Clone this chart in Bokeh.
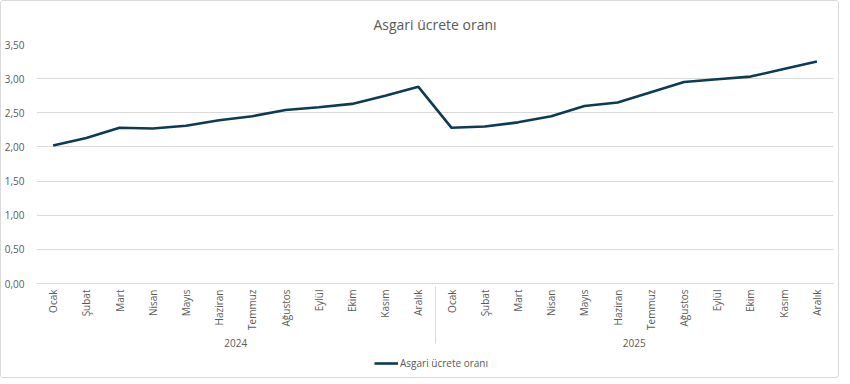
import math
from bokeh.plotting import figure
from bokeh.layouts import column
from bokeh.models import FactorRange, Range1d, Legend, LegendItem, CustomJSTickFormatter, FixedTicker, ColumnDataSource
from bokeh.embed import file_html
from bokeh.resources import INLINE

years = ["2024", "2025"]
months = ["Ocak", "Şubat", "Mart", "Nisan", "Mayıs", "Haziran", "Temmuz",
          "Ağustos", "Eylül", "Ekim", "Kasım", "Aralık"]
values_2024 = [2.02, 2.13, 2.28, 2.27, 2.31, 2.39, 2.45, 2.54, 2.58, 2.63, 2.75, 2.88]
values_2025 = [2.28, 2.30, 2.36, 2.45, 2.60, 2.65, 2.80, 2.95, 2.99, 3.03, 3.14, 3.25]
y_ticks = [0, 0.5, 1.0, 1.5, 2.0, 2.5, 3.0, 3.5]
series_name = "Asgari ücrete oranı"

factors = [(y, m) for y in years for m in months]
vals = values_2024 + values_2025
src = ColumnDataSource(dict(x=factors, y=vals))

FONT = "Open Sans"
GREY = "#595959"
LINE = "#0d3b54"

p = figure(x_range=FactorRange(*factors, range_padding=0, factor_padding=0, group_padding=0),
           y_range=Range1d(0, 3.5),
           frame_width=797, frame_height=239, output_backend="svg", toolbar_location=None,
           min_border_left=28, min_border_right=5, min_border_top=0, min_border_bottom=0)
p.title.text = "Asgari ücrete oranı"
p.title.align = "center"
p.title.text_font = FONT
p.title.text_font_size = "14px"
p.title.text_font_style = "normal"
p.title.text_color = GREY
p.title.standoff = 22
p.title.offset = 0

p.line("x", "y", source=src, line_color=LINE, line_width=2.6)

p.outline_line_color = None
p.background_fill_color = "white"
p.border_fill_color = "white"

p.ygrid.grid_line_color = "#d9d9d9"
p.xgrid.grid_line_color = None
p.yaxis.ticker = FixedTicker(ticks=y_ticks)
p.yaxis.formatter = CustomJSTickFormatter(code="return tick.toFixed(2).replace('.', ',');")
p.yaxis.axis_line_color = None
p.yaxis.major_tick_line_color = None
p.yaxis.minor_tick_line_color = None
p.yaxis.major_label_text_font = FONT
p.yaxis.major_label_text_font_size = "10px"
p.yaxis.major_label_text_color = GREY
p.yaxis.major_label_standoff = 6

xa = p.xaxis[0]
xa.axis_line_color = "#d9d9d9"
xa.major_tick_line_color = None
xa.minor_tick_line_color = None
xa.major_tick_out = 0
xa.major_label_orientation = math.pi / 2
xa.major_label_standoff = 6
xa.major_label_text_font = FONT
xa.major_label_text_font_size = "10px"
xa.major_label_text_color = GREY
xa.group_text_font = FONT
xa.group_text_font_size = "10px"
xa.group_text_color = GREY
xa.group_text_font_style = "normal"
xa.separator_line_color = "#d9d9d9"
xa.separator_line_width = 1

# legend strip
lp = figure(x_range=Range1d(0, 1), y_range=Range1d(0, 1), width=830, height=28,
            output_backend="svg", toolbar_location=None,
            min_border_left=0, min_border_right=0, min_border_top=0, min_border_bottom=0)
lp.axis.visible = False
lp.grid.visible = False
lp.outline_line_color = None
lr = lp.line(x=[-2, -1], y=[-2, -1], line_color=LINE, line_width=2.6)
legend = Legend(items=[LegendItem(label=series_name, renderers=[lr])],
                orientation="horizontal", location="center",
                label_text_font=FONT, label_text_font_size="10px", label_text_color=GREY,
                border_line_color=None, background_fill_alpha=0,
                glyph_width=24, glyph_height=12, label_standoff=2,
                label_height=12, padding=1, margin=0, spacing=0)
lp.add_layout(legend, "center")

layout = column(p, lp, spacing=0,
                styles={"border": "1px solid #d9d9d9", "border-radius": "3px"})
open("out.html", "w").write(file_html(layout, INLINE))
